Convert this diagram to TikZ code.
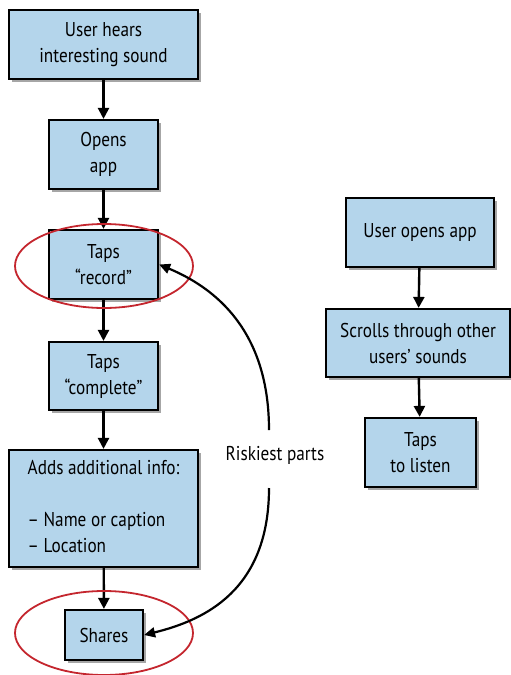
\documentclass[tikz,border=0pt]{standalone}
\usepackage{fontspec}
\setmainfont{PT Sans}[FakeStretch=0.86]
\usetikzlibrary{arrows.meta,shadows,positioning,shapes.geometric}
\definecolor{boxblue}{HTML}{B4D5EB}
\definecolor{ringred}{HTML}{C4262E}
\tikzset{
  stepbox/.style={draw=black, line width=2.2pt, fill=boxblue, align=center,
    inner sep=0pt, font=\fontsize{20}{26}\selectfont,
    drop shadow={shadow xshift=2.5pt, shadow yshift=-2.5pt, opacity=0.35, fill=black}},
  flow/.style={line width=2.4pt, -{Triangle[length=11pt,width=11pt]}},
  ring/.style={draw=ringred, line width=1.8pt},
  risk/.style={line width=2.2pt, -{Triangle[length=11pt,width=10pt]}}
}
\begin{document}
\begin{tikzpicture}[x=1pt,y=-1pt]
\useasboundingbox (0,0) rectangle (511,675);
\node[stepbox, minimum width=189pt, minimum height=69pt] (b1) at (103.5,44.5) {User hears\\interesting sound};
\node[stepbox, minimum width=109pt, minimum height=69pt] (b2) at (103.5,154.5) {Opens\\app};
\node[stepbox, minimum width=109pt, minimum height=69pt] (b3) at (103.5,264.5) {Taps\\“record”};
\node[stepbox, minimum width=109pt, minimum height=68pt] (b4) at (103.5,376) {Taps\\“complete”};
\node[stepbox, minimum width=189pt, minimum height=117pt, align=left] (b5) at (103.5,508.5) {\begin{tabular}{@{}l@{}}Adds additional info:\\[26pt]– Name or caption\\– Location\end{tabular}};
\node[stepbox, minimum width=78pt, minimum height=50pt] (b6) at (104,635) {Shares};
\node[stepbox, minimum width=148pt, minimum height=69pt] (a1) at (420,232.5) {User opens app};
\node[stepbox, minimum width=184pt, minimum height=68pt] (a2) at (418,343) {Scrolls through other\\users’ sounds};
\node[stepbox, minimum width=111pt, minimum height=69pt] (a3) at (420.5,452.5) {Taps\\to listen};
\draw[flow] (b1) -- (b2);
\draw[flow] (b2) -- (b3);
\draw[flow] (b3) -- (b4);
\draw[flow] (b4) -- (b5);
\draw[flow] (b5) -- (b6);
\draw[flow] (a1) -- (a2);
\draw[flow] (a2) -- (a3);
\node[ring, ellipse, minimum width=178pt, minimum height=84pt, inner sep=0pt] (e1) at (104,266) {};
\node[ring, ellipse, minimum width=178pt, minimum height=84pt, inner sep=0pt] (e2) at (104,633) {};
\node[font=\fontsize{20}{26}\selectfont] (lbl) at (275,455) {Riskiest parts};
\coordinate (u0) at (269,430);
\coordinate (d0) at (269,488);
\draw[risk] (u0) .. controls (269,340) and (225,292) .. (b3.east);
\draw[risk] (d0) .. controls (269,590) and (205,620) .. (b6.east);
\end{tikzpicture}
\end{document}
